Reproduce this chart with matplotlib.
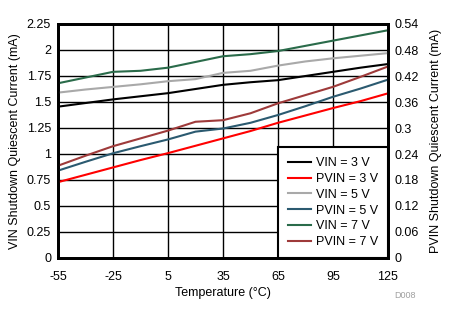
import matplotlib
matplotlib.use("Agg")
import matplotlib.pyplot as plt
from matplotlib.lines import Line2D

plt.rcParams['font.family'] = ['Liberation Sans', 'DejaVu Sans']

temps = [-55, -40, -25, -10, 5, 20, 35, 50, 65, 80, 95, 110, 125]

# VIN quiescent current (mA), left axis
vin_3v = [1.455, 1.49, 1.525, 1.555, 1.585, 1.625, 1.665, 1.69, 1.71, 1.75, 1.79, 1.83, 1.865]
vin_5v = [1.59, 1.62, 1.645, 1.67, 1.70, 1.72, 1.78, 1.80, 1.85, 1.89, 1.92, 1.945, 1.97]
vin_7v = [1.68, 1.735, 1.79, 1.80, 1.83, 1.885, 1.94, 1.96, 1.99, 2.04, 2.09, 2.14, 2.19]

# PVIN quiescent current (mA), right axis
pvin_3v = [0.175, 0.192, 0.209, 0.226, 0.242, 0.259, 0.276, 0.293, 0.312, 0.329, 0.346, 0.362, 0.380]
pvin_5v = [0.2016, 0.222, 0.2417, 0.258, 0.2736, 0.2916, 0.2988, 0.312, 0.33, 0.3504, 0.372, 0.391, 0.4116]
pvin_7v = [0.213, 0.236, 0.258, 0.276, 0.294, 0.3144, 0.318, 0.334, 0.357, 0.376, 0.395, 0.418, 0.442]

x_ticks = [-55, -25, 5, 35, 65, 95, 125]
left_ticks = [0, 0.25, 0.5, 0.75, 1, 1.25, 1.5, 1.75, 2, 2.25]
right_ticks = [0, 0.06, 0.12, 0.18, 0.24, 0.3, 0.36, 0.42, 0.48, 0.54]

c_vin3 = '#000000'
c_pvin3 = '#FF0000'
c_vin5 = '#A9A9A9'
c_pvin5 = '#2B5A70'
c_vin7 = '#2A6B4A'
c_pvin7 = '#9E3A3A'

fig = plt.figure(figsize=(4.52, 3.24), dpi=100)
ax = fig.add_axes([58/452, 66/324, 330/452, 234/324])
ax2 = ax.twinx()

lw = 1.5
ax.plot(temps, vin_3v, color=c_vin3, lw=lw, zorder=3)
ax.plot(temps, vin_5v, color=c_vin5, lw=lw, zorder=3)
ax.plot(temps, vin_7v, color=c_vin7, lw=lw, zorder=3)
ax2.plot(temps, pvin_3v, color=c_pvin3, lw=lw)
ax2.plot(temps, pvin_5v, color=c_pvin5, lw=lw)
ax2.plot(temps, pvin_7v, color=c_pvin7, lw=lw)

ax.set_xlim(-55, 125)
ax.set_ylim(0, 2.25)
ax2.set_ylim(0, 0.54)
ax.set_xticks(x_ticks)
ax.set_xticklabels([str(t) for t in x_ticks])
ax.set_yticks(left_ticks)
ax.set_yticklabels(['0', '0.25', '0.5', '0.75', '1', '1.25', '1.5', '1.75', '2', '2.25'])
ax2.set_yticks(right_ticks)
ax2.set_yticklabels(['0', '0.06', '0.12', '0.18', '0.24', '0.3', '0.36', '0.42', '0.48', '0.54'])

ax.grid(True, color='black', lw=1.0)
ax.set_axisbelow(True)
ax.tick_params(axis='both', length=0, labelsize=9, pad=5)
ax2.tick_params(axis='y', length=0, labelsize=9, pad=5)
ax.tick_params(axis='x', pad=9)

for a in (ax, ax2):
    for s in a.spines.values():
        s.set_linewidth(2.0)
        s.set_color('black')

ax.set_xlabel('Temperature (°C)', fontsize=9, labelpad=3)
ax.set_ylabel('VIN Shutdown Quiescent Current (mA)', fontsize=9, labelpad=4)
ax2.set_ylabel('PVIN Shutdown Quiescent Current (mA)', fontsize=9, labelpad=8)

handles = [
    Line2D([], [], color=c_vin3, lw=lw),
    Line2D([], [], color=c_pvin3, lw=lw),
    Line2D([], [], color=c_vin5, lw=lw),
    Line2D([], [], color=c_pvin5, lw=lw),
    Line2D([], [], color=c_vin7, lw=lw),
    Line2D([], [], color=c_pvin7, lw=lw),
]
labels = ['VIN = 3 V', 'PVIN = 3 V', 'VIN = 5 V', 'PVIN = 5 V', 'VIN = 7 V', 'PVIN = 7 V']
leg = ax2.legend(handles, labels, loc='lower right', borderaxespad=0, fontsize=9,
                 frameon=True, fancybox=False, framealpha=1, edgecolor='black',
                 handlelength=1.85, handletextpad=0.35, labelspacing=0.3,
                 borderpad=0.8)
leg.get_frame().set_linewidth(1.5)

fig.text(405/452, 1 - 296/324, 'D008', fontsize=6.5, color='#A0A0A0', ha='center', va='center')

fig.savefig('out.png', dpi=100)
